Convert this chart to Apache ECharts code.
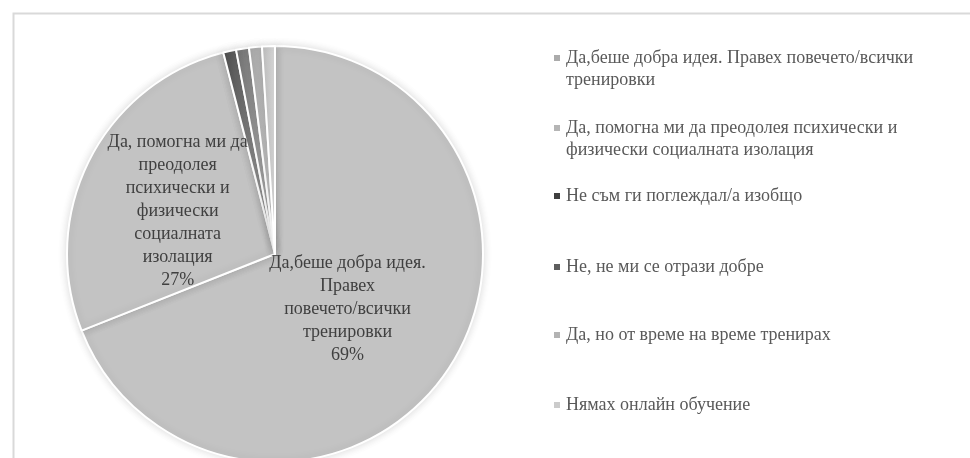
<!DOCTYPE html>
<html>
<head>
<meta charset="utf-8">
<script src="https://cdn.jsdelivr.net/npm/echarts@6/dist/echarts.min.js"></script>
<style>
  html, body { margin: 0; padding: 0; background: #ffffff; }
  #chart { width: 970px; height: 458px; }
</style>
</head>
<body>
<div id="chart"></div>
<script>
// Answers to the survey question and their shares (%)
const categories = [
  'Да,беше добра идея. Правех повечето/всички тренировки',
  'Да, помогна ми да преодолея психически и физически социалната изолация',
  'Не съм ги поглеждал/а изобщо',
  'Не, не ми се отрази добре',
  'Да, но от време на време тренирах',
  'Нямах онлайн обучение'
];
const shares = [69, 27, 1, 1, 1, 1];

// Wrapped text for the slice labels (only the two large slices are labelled)
const sliceLabelText = [
  'Да,беше добра идея.\nПравех\nповечето/всички\nтренировки',
  'Да, помогна ми да\nпреодолея\nпсихически и\nфизически\nсоциалната\nизолация',
  '', '', '', ''
];

// Wrapped text for the legend entries
const legendText = [
  'Да,беше добра идея. Правех повечето/всички\nтренировки',
  'Да, помогна ми да преодолея психически и\nфизически социалната изолация',
  'Не съм ги поглеждал/а изобщо',
  'Не, не ми се отрази добре',
  'Да, но от време на време тренирах',
  'Нямах онлайн обучение'
];

// Styling
const FONT = '"Liberation Serif", "Times New Roman", serif';
const sliceFills = [
  '#c3c3c3',
  '#c3c3c3',
  ['#4a4a4a', '#b8b8b8'],
  ['#6e6e6e', '#c4c4c4'],
  ['#a6a6a6', '#d2d2d2'],
  ['#bdbdbd', '#dcdcdc']
];
const legendSwatch = ['#ababab', '#b5b5b5', '#3f3f3f', '#5e5e5e', '#b3b3b3', '#cbcbcb'];
const legendLineY = [58, 128, 196, 267, 335, 405]; // centre of first text line
const labelShift = [[-16, -5], [-2, 6]];           // nudges for the two slice labels

function fillFor(i) {
  const f = sliceFills[i];
  if (typeof f === 'string') return f;
  return new echarts.graphic.LinearGradient(0, 0, 1, 0, [
    { offset: 0, color: f[0] },
    { offset: 1, color: f[1] }
  ]);
}

const chart = echarts.init(document.getElementById('chart'), null, { renderer: 'canvas' });

// One legend block per entry. Legend text is centred on its swatch, so a
// two-line entry gets an empty line on top to keep the swatch beside line one.
const legends = categories.map((name, i) => {
  const twoLine = legendText[i].indexOf('\n') >= 0;
  return {
    data: [{ name: name, itemStyle: { color: legendSwatch[i] } }],
    left: 552,
    top: legendLineY[i] - (twoLine ? 33 : 11),
    padding: 0,
    icon: 'rect',
    itemWidth: 8,
    itemHeight: 8,
    itemGap: 0,
    selectedMode: false,
    formatter: () => (twoLine ? '\u00a0\n' : '') + legendText[i],
    textStyle: {
      fontFamily: FONT,
      fontSize: 18,
      lineHeight: 22,
      color: '#595959'
    }
  };
});

chart.setOption({
  animation: false,
  backgroundColor: '#ffffff',
  graphic: [{
    type: 'rect',
    left: 11,
    top: 11,
    shape: { width: 1000, height: 500 },
    style: { fill: 'none', stroke: '#d9d9d9', lineWidth: 2 },
    silent: true,
    z: -10
  }],
  legend: legends,
  series: [{
    type: 'pie',
    center: [275, 254],
    radius: 208,
    startAngle: 90,
    clockwise: true,
    avoidLabelOverlap: false,
    data: categories.map((name, i) => ({
      name: name,
      value: shares[i],
      itemStyle: { color: fillFor(i) }
    })),
    itemStyle: {
      borderColor: '#ffffff',
      borderWidth: 2,
      shadowBlur: 8,
      shadowColor: 'rgba(0,0,0,0.14)'
    },
    label: {
      show: true,
      position: 'inside',
      fontFamily: FONT,
      fontSize: 18,
      lineHeight: 23,
      color: '#404040',
      formatter: (p) => sliceLabelText[p.dataIndex]
        ? sliceLabelText[p.dataIndex] + '\n' + Math.round(p.percent) + '%'
        : ''
    },
    labelLayout: (p) => labelShift[p.dataIndex]
      ? { dx: labelShift[p.dataIndex][0], dy: labelShift[p.dataIndex][1] }
      : {},
    labelLine: { show: false },
    emphasis: { disabled: true }
  }]
});
</script>
</body>
</html>
